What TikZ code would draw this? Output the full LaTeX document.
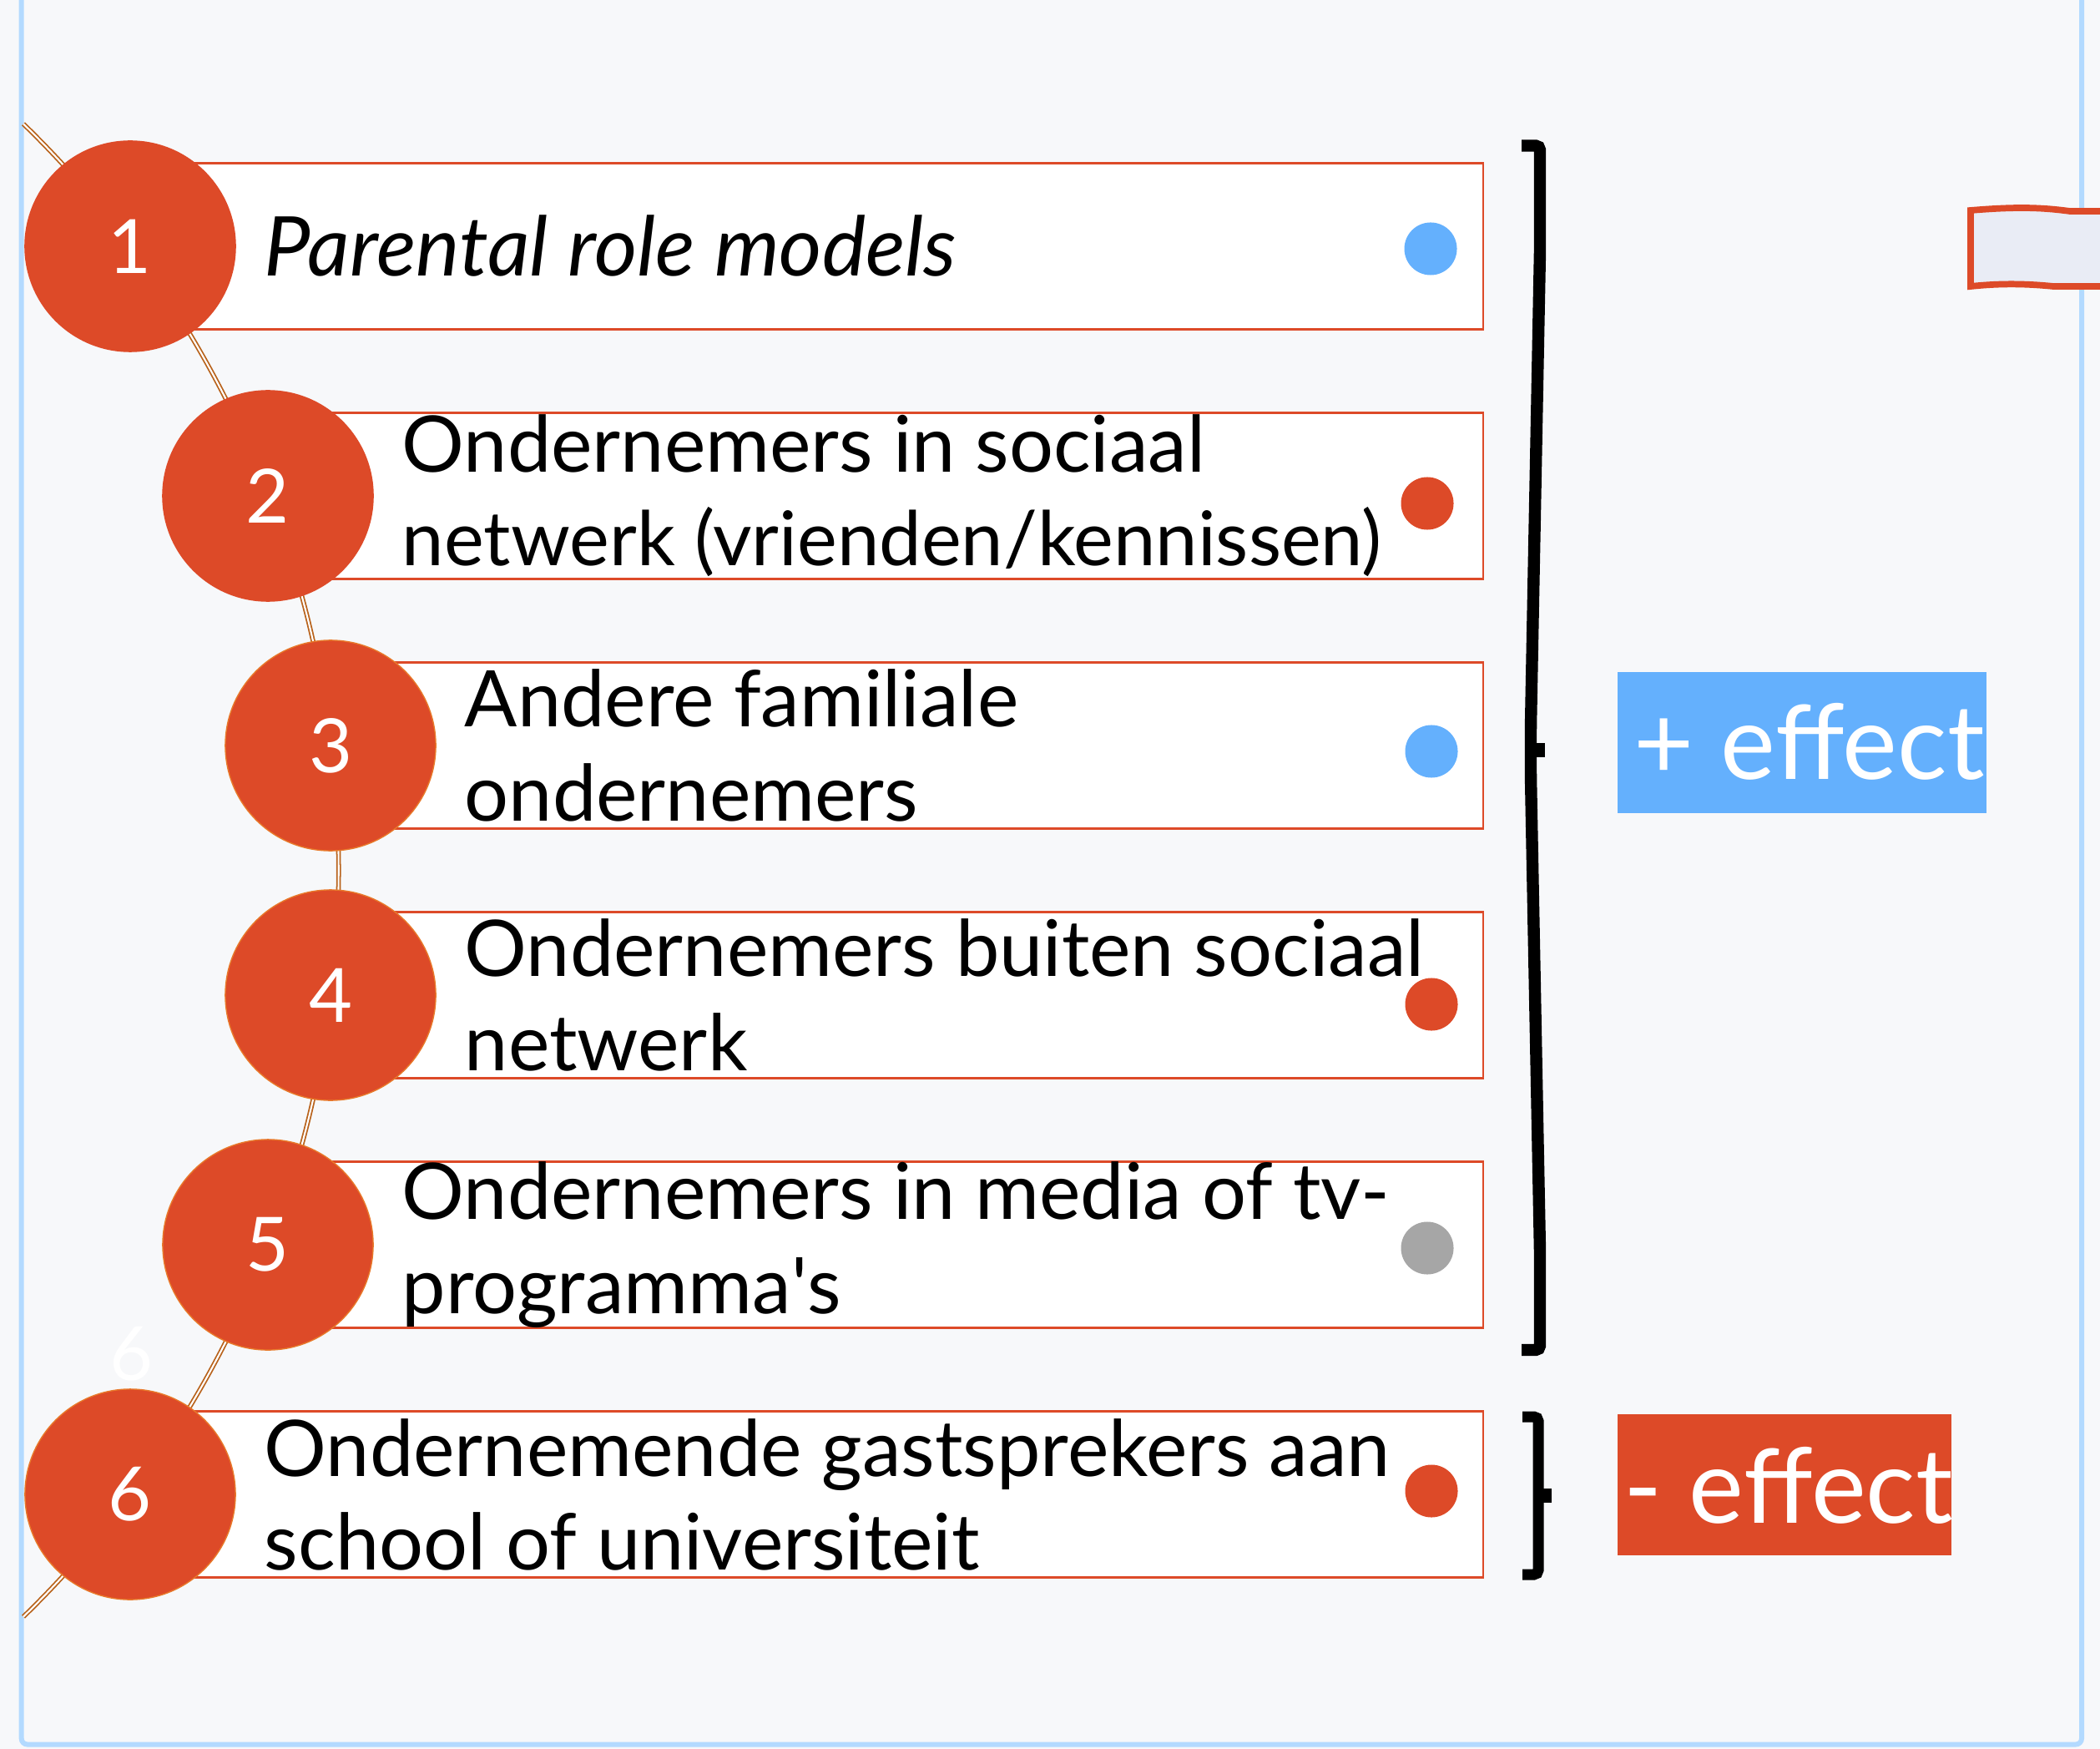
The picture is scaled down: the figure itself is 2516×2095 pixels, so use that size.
\documentclass[tikz,border=0pt]{standalone}
\usepackage{fontspec}
\setmainfont{Lato}
\usetikzlibrary{positioning}
\definecolor{bgcol}{HTML}{F7F8FA}
\definecolor{framecol}{HTML}{B3DAFF}
\definecolor{redcol}{HTML}{DD4A28}
\definecolor{ringcol}{HTML}{E8792A}
\definecolor{bluecol}{HTML}{64B0FD}
\definecolor{greycol}{HTML}{A6A6A6}
\definecolor{arccol}{HTML}{B8621B}
\definecolor{tabcol}{HTML}{E9ECF5}

\begin{document}
\begin{tikzpicture}[x=0.01cm,y=0.01cm,
  numdecorate/.style={shape=circle,minimum size=2.52cm,inner sep=0pt,fill=redcol,line width=0.4pt,text=white,font=\fontsize{25.5}{30}\selectfont},
  boxdecorate/.style={shape=rectangle,minimum height=1.99cm,inner sep=0pt,fill=white,draw=redcol,line width=0.7pt,anchor=west},
  textdecorate/.style={anchor=west,align=left,inner sep=0pt,font=\fontsize{26.6}{31.9}\selectfont},
  dotdecorate/.style={shape=circle,minimum size=0.63cm,inner sep=0pt},
  effectdecorate/.style={shape=rectangle,inner sep=0pt,minimum height=1.69cm},
  effecttext/.style={anchor=base west,inner sep=0pt,text=white,font=\fontsize{35.4}{42}\selectfont},
  bracedecorate/.style={line width=4.1pt,rounded corners=1.5pt},
  arcdecorate/.style={draw=arccol,double=white,line width=0.5pt,double distance=0.6pt}]
\useasboundingbox (0,0) rectangle (2516,-2095);
\clip (0,0) rectangle (2516,-2095);
\fill[bgcol] (0,0) rectangle (2516,-2095);
\draw[framecol,line width=1.7pt,rounded corners=2pt] (25.7,20) -- (25.7,-2089.5) -- (2494,-2089.5) -- (2494,20);
%% tab at the right edge
\filldraw[fill=tabcol,draw=redcol,line width=2.2pt] (2361,-252) .. controls (2420,-247) and (2450,-249) .. (2480,-253)
  -- (2540,-253) -- (2540,-343) -- (2460,-343) .. controls (2420,-339) and (2390,-340) .. (2361,-343) -- cycle;
%% arc behind the numbers
\coordinate (arcc) at (-841.5,-1042.5);
\draw[arcdecorate] ([shift={(45.8:12.465cm)}]arcc) arc[start angle=45.8,end angle=-45.8,radius=12.465cm];
%% items
\foreach \n/\x/\y/\ring/\dx/\dy/\dotcol/\txt in {
  1/156/295/redcol/1714/298/bluecol/{\itshape\fontsize{28.1}{31.9}\selectfont Parental role models},
  2/321/594/redcol/1710/603/redcol/{Ondernemers in sociaal\\\fontsize{25.7}{31.9}\selectfont netwerk (vrienden/kennissen)},
  3/396/893/ringcol/1715/900/bluecol/{Andere familiale\\ondernemers},
  4/396/1192/ringcol/1715/1203/redcol/{Ondernemers buiten sociaal\\netwerk},
  5/321/1491/ringcol/1710/1495/greycol/{Ondernemers in media of tv-\\programma\textquotesingle s},
  6/156/1790/ringcol/1715/1786/redcol/{Ondernemende gastsprekers aan\\school of universiteit}}
{
  \node (b\n) at (\x,-\y) [boxdecorate,minimum width={(1776-\x)*0.01cm}] {};
  \node (c\n) at (\x,-\y) [numdecorate,draw=\ring] {\n};
  \node (t\n) at ([xshift=1.6cm]c\n.center) [textdecorate] {\txt};
  \node (d\n) at (\dx,-\dy) [dotdecorate,fill=\dotcol] {};
}
\node (ghost6) at (158,-1622) [text=white,font=\fontsize{25.5}{30}\selectfont] {6};
%% brackets
\draw[bracedecorate] (1823,-174.5) -- (1845,-174.5) -- (1845,-300) -- (1834,-870) -- (1834,-930) -- (1845,-1500) -- (1845,-1617) -- (1823,-1617);
\fill (1834,-889.5) rectangle (1851,-906.5);
\draw[bracedecorate,line width=3.7pt] (1824,-1697) -- (1843,-1697) -- (1843,-1886) -- (1824,-1886);
\fill (1843,-1783) rectangle (1859,-1800);
%% effect labels
\node (plus) at (2159,-889.5) [effectdecorate,fill=bluecol,minimum width=4.42cm,
  path picture={\node (plustext) at ([xshift=0.08cm,yshift=-1.28cm]path picture bounding box.north west) [effecttext] {+ effect};}] {};
\node (minus) at (2138,-1778.5) [effectdecorate,fill=redcol,minimum width=4.0cm,
  path picture={\node (minustext) at ([xshift=0.04cm,yshift=-1.30cm]path picture bounding box.north west) [effecttext] {- effect};}] {};
\end{tikzpicture}
\end{document}
